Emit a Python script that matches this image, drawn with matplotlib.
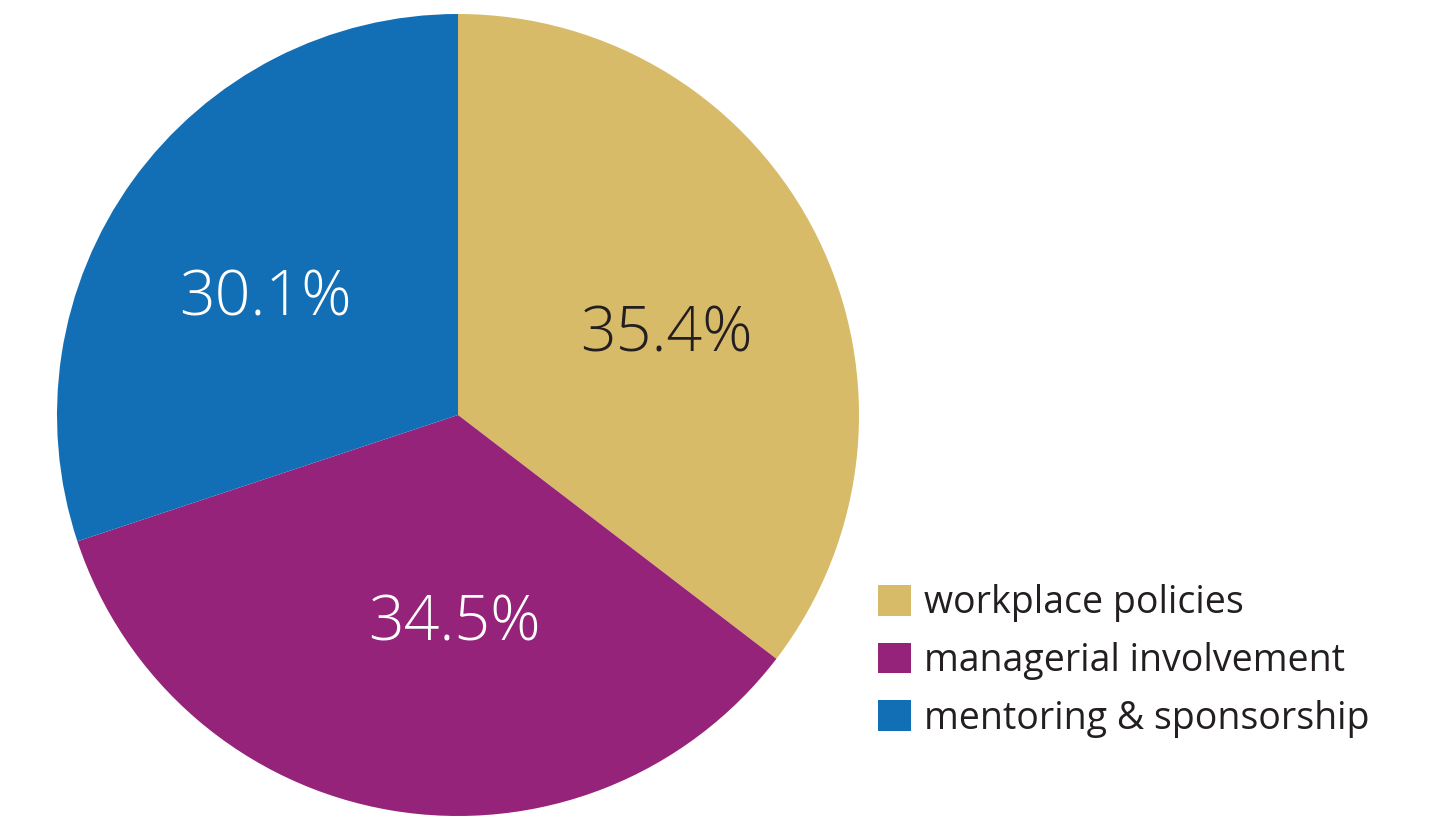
import matplotlib

matplotlib.use("Agg")
import matplotlib.pyplot as plt
from matplotlib.patches import Patch

categories = ["workplace policies", "managerial involvement", "mentoring & sponsorship"]
shares = [35.4, 34.5, 30.1]
colors = ["#D8BB69", "#96237A", "#126EB5"]
label_colors = ["#231F20", "white", "white"]
# label centres in axes data units (pie radius = 1)
label_xy = [(0.52, 0.20), (-0.01, -0.52), (-0.48, 0.29)]

plt.rcParams["font.family"] = ["Open Sans", "DejaVu Sans"]

W, H = 1429, 816
fig = plt.figure(figsize=(W / 100, H / 100), dpi=100)
cx, cy, r = 458, 415, 401
ax = fig.add_axes([(cx - r) / W, (H - cy - r) / H, 2 * r / W, 2 * r / H])

ax.pie(shares, colors=colors, startangle=90, counterclock=False,
       wedgeprops=dict(linewidth=0), radius=1)
ax.set_xlim(-1, 1)
ax.set_ylim(-1, 1)
ax.set_aspect("equal")
ax.axis("off")

for val, (x, y), c in zip(shares, label_xy, label_colors):
    ax.text(x, y, f"{val:.1f}%", color=c, fontsize=45, fontweight="light",
            ha="center", va="center")

handles = [Patch(facecolor=c, edgecolor="none") for c in colors]
leg = fig.legend(handles, categories, loc="center left",
                 bbox_to_anchor=(878 / W, 1 - 661 / H), frameon=False,
                 fontsize=27, handlelength=0.88, handleheight=0.88,
                 handletextpad=0.35, labelspacing=0.52, borderpad=0,
                 borderaxespad=0)
for t in leg.get_texts():
    t.set_color("#231F20")

fig.savefig("out.png", dpi=100)
plt.close(fig)
